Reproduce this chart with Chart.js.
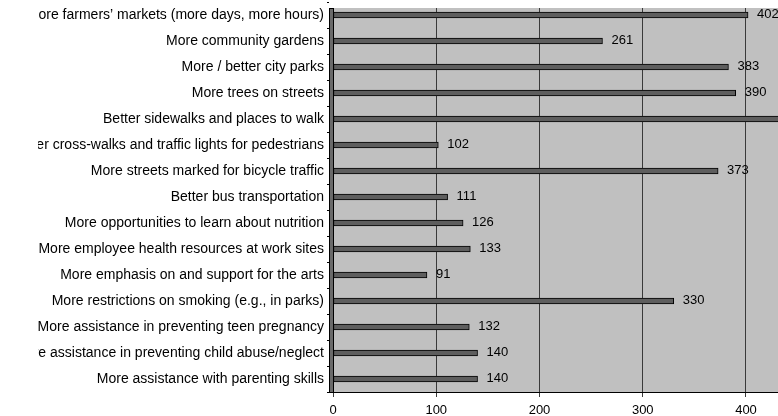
<!DOCTYPE html>
<html>
<head>
<meta charset="utf-8">
<script src="https://cdn.jsdelivr.net/npm/chart.js@4/dist/chart.umd.min.js"></script>
<style>
  html, body { margin: 0; padding: 0; background: #fff; overflow: hidden; }
  #wrap { position: relative; width: 778px; height: 416px; }
</style>
</head>
<body>
<div id="wrap"><canvas id="grafico"></canvas></div>
<script>
/* ===================== DATOS ===================== */
const categorias = [
  "More farmers’ markets (more days, more hours)",
  "More community gardens",
  "More / better city parks",
  "More trees on streets",
  "Better sidewalks and places to walk",
  "Better cross-walks and traffic lights for pedestrians",
  "More streets marked for bicycle traffic",
  "Better bus transportation",
  "More opportunities to learn about nutrition",
  "More employee health resources at work sites",
  "More emphasis on and support for the arts",
  "More restrictions on smoking (e.g., in parks)",
  "More assistance in preventing teen pregnancy",
  "More assistance in preventing child abuse/neglect",
  "More assistance with parenting skills",
];
const valores = [402, 261, 383, 390, 455, 102, 373, 111, 126, 133, 91, 330, 132, 140, 140];
const ejeX = { min: 0, max: 431, paso: 100 };

Chart.defaults.font.family = "'Liberation Sans', Arial, sans-serif";
Chart.defaults.font.size = 13;
Chart.defaults.color = "#000";

/* ===================== FONDO / PARED ===================== */
const fondo = {
  id: "fondo",
  beforeDraw(chart) {
    const { ctx, chartArea: a } = chart;
    ctx.save();
    ctx.fillStyle = "#c0c0c0";
    ctx.fillRect(a.left, 8, a.right - a.left, a.bottom - 8);
    ctx.restore();
  },
  beforeDatasetsDraw(chart) {
    const { ctx, chartArea: a } = chart;
    ctx.save();
    // tapa la franja blanca de arriba
    ctx.fillStyle = "#fff";
    ctx.fillRect(a.left - 4, 0, a.right - a.left + 4, 8);
    // pared izquierda
    ctx.fillStyle = "#6a6a6a";
    ctx.fillRect(a.left - 3, 8, 4, a.bottom - 8);
    ctx.strokeStyle = "#000";
    ctx.lineWidth = 1;
    ctx.strokeRect(a.left - 3.5, 8.5, 4, a.bottom - 8);
    ctx.restore();
  },
  afterDraw(chart) {
    // las etiquetas largas quedan cortadas a la izquierda
    const { ctx } = chart;
    ctx.save();
    ctx.fillStyle = "#fff";
    ctx.fillRect(0, 0, 38, chart.chartArea.bottom);
    ctx.restore();
  },
};

/* ===================== ETIQUETAS ===================== */
const etiquetas = {
  id: "etiquetas",
  afterDatasetsDraw(chart) {
    const { ctx } = chart;
    const meta = chart.getDatasetMeta(0);
    ctx.save();
    ctx.font = "13px 'Liberation Sans', Arial, sans-serif";
    ctx.fillStyle = "#000";
    ctx.textBaseline = "middle";
    ctx.textAlign = "left";
    meta.data.forEach((barra, i) => {
      ctx.fillText(valores[i], barra.x + 9, barra.y - 1);
    });
    ctx.restore();
  },
};

/* ===================== GRAFICO ===================== */
new Chart(document.getElementById("grafico"), {
  type: "bar",
  data: {
    labels: categorias,
    datasets: [
      {
        data: valores,
        backgroundColor: "#5e5e5e",
        borderColor: "#000",
        borderWidth: 1,
        borderSkipped: false,
        barThickness: 6,
      },
    ],
  },
  plugins: [fondo, etiquetas],
  options: {
    indexAxis: "y",
    responsive: true,
    maintainAspectRatio: false,
    animation: false,
    layout: { padding: { top: 2, right: 0, left: 0, bottom: 0 } },
    plugins: { legend: { display: false }, tooltip: { enabled: false } },
    scales: {
      y: {
        afterFit: (s) => {
          s.width = 333;
          s.paddingTop = 0;
          s.paddingBottom = 0;
        },
        ticks: { autoSkip: false, padding: 3, color: "#000", font: { size: 14 } },
        grid: { drawOnChartArea: false, tickLength: 6, color: "#000" },
        border: { display: false },
      },
      x: {
        min: ejeX.min,
        max: ejeX.max,
        afterFit: (s) => {
          s.height = 24;
          s.paddingRight = 0;
        },
        ticks: { stepSize: ejeX.paso, includeBounds: false, padding: 6, color: "#000" },
        grid: { color: "#3a3a3a", tickLength: 5 },
        border: { color: "#000", width: 1 },
      },
    },
  },
});
</script>
</body>
</html>
